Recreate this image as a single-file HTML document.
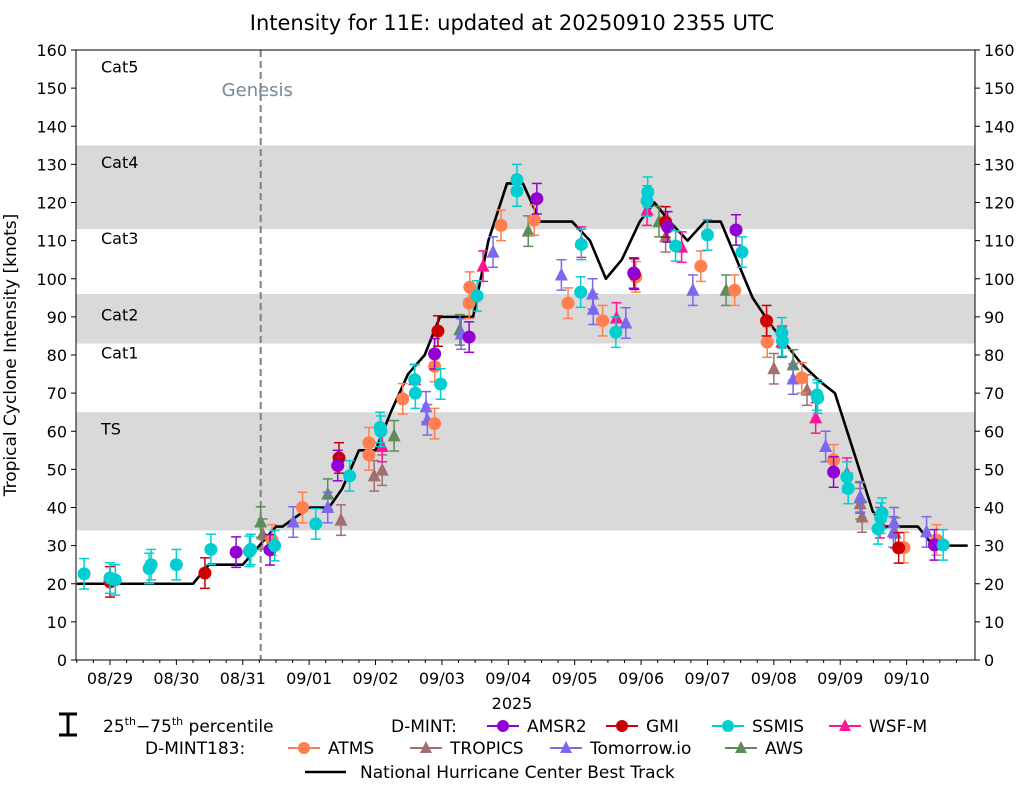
<!DOCTYPE html>
<html><head><meta charset="utf-8"><style>
body{margin:0;background:#fff;}
svg{font-family:"DejaVu Sans","Liberation Sans",sans-serif;}
</style></head><body>
<svg id="chart" width="1025" height="785" viewBox="0 0 1025 785" xmlns="http://www.w3.org/2000/svg">
<text x="512" y="30" font-size="21" text-anchor="middle">Intensity for 11E: updated at 20250910 2355 UTC</text>
<g id="bands"></g>
<g id="plot"></g>
<g id="axes"></g>
<g id="legend"></g>
</svg>
<script>
// ---- data (t = days since 08/29 00Z, knots) ----
const dayLabels=["08/29","08/30","08/31","09/01","09/02","09/03","09/04","09/05","09/06","09/07","09/08","09/09","09/10"];
const yTicks=[0,10,20,30,40,50,60,70,80,90,100,110,120,130,140,150,160];
const bandRanges=[[34,65],[83,96],[113,135]];
const catNames=["Cat5","Cat4","Cat3","Cat2","Cat1","TS"];
const catValues=[152,127,107,87,77,57];
const genesisT=2.27;
const bestT=[-0.5,1.25,1.49,2.0,2.5,2.6,3.0,3.3,3.5,3.75,4.0,4.23,4.49,4.74,4.97,5.47,5.7,5.98,6.22,6.48,6.96,7.23,7.47,7.71,7.98,8.2,8.43,8.7,8.96,9.2,9.68,9.95,10.4,10.7,10.92,11.49,11.67,12.17,12.4,12.92];
const bestV=[20,20,25,25,35,35,40,40,45,55,55,65,75,80,90,90,110,125,125,115,115,110,100,105,115,120,115,110,115,115,95,88,78,73,70,39,35,35,30,30];
const ssmisT=[-0.39,0,0.08,0.59,0.62,1.0,1.52,2.1,2.12,2.48,3.1,3.61,4.07,4.08,4.59,4.6,4.98,5.53,6.13,6.13,7.09,7.1,7.62,8.1,8.09,8.52,9.0,9.52,10.12,10.13,10.65,10.66,11.1,11.12,11.57,11.61,11.63,12.55];
const ssmisV=[22.6,21.5,21,24,25,25,29,28.5,29,30,35.7,48.3,61,60,73.5,70,72.4,95.5,126,123,96.5,109,86,122.7,120.4,108.6,111.5,107,85.8,83.7,69.5,68.7,48,45,34.4,37.2,38.5,30.2];
const amsr2T=[1.9,2.41,3.43,4.89,5.41,6.43,7.89,8.4,9.43,10.9,12.42];
const amsr2V=[28.3,28.9,51,80.3,84.7,121,101.5,113.6,112.8,49.3,30.2];
const gmiT=[0,1.43,3.45,4.94,7.9,8.37,9.89,11.88];
const gmiV=[20.5,22.8,53,86.3,101.2,114.9,89,29.4];
const atmsT=[2.44,2.9,3.9,3.9,4.41,4.89,4.89,5.41,5.42,5.89,6.39,6.9,7.42,7.92,8.9,9.41,9.9,10.42,10.9,11.96,12.45];
const atmsV=[31.5,40,53.8,57,68.5,77,62,93.6,97.8,114,115.4,93.6,89,100.5,103.3,97,83.4,74,52.5,29.5,31.5];
const tropicsT=[2.3,3.48,3.98,4.1,8.37,10.0,10.5,11.3,11.33,11.83];
const tropicsV=[33,36.7,48.3,49.8,111,76.4,70.8,41,37.5,33.3];
const tomorrowT=[2.76,3.28,4.76,4.78,5.29,5.77,6.8,7.27,7.28,7.77,8.78,10.29,10.78,11.3,11.81,11.8,12.3];
const tomorrowV=[36.2,40,66.4,63,85.5,107,101,96,92,88.4,97,73.7,56,42.8,36,33.6,33.6];
const awsT=[2.27,3.28,4.28,5.27,6.3,8.27,9.28,10.29,11.3];
const awsV=[36.2,43.5,58.8,86.6,112.5,115,97,77.4,42.5];
const wsfT=[4.1,4.59,5.62,7.1,7.63,8.09,8.61,10.12,10.63,11.1,11.6];
const wsfV=[56,73.5,103.3,109.6,89.7,118,108.3,83.4,63.5,49,36];

// ---- axes ----
const X0=76,X1=975,Y0=660,Y1=50;
const tMin=-0.512,tMax=13.03;
const xs=t=>X0+(t-tMin)/(tMax-tMin)*(X1-X0);
const ys=v=>Y0-v/160*(Y0-Y1);
const NS="http://www.w3.org/2000/svg";
function mk(tag,attrs,parent,txt){const e=document.createElementNS(NS,tag);for(const k in attrs)e.setAttribute(k,attrs[k]);if(txt!==undefined)e.textContent=txt;parent.appendChild(e);return e;}
const bands=document.getElementById('bands'),plot=document.getElementById('plot'),axes=document.getElementById('axes'),legend=document.getElementById('legend');

bandRanges.forEach(b=>{const r=mk('rect',{x:X0,y:ys(b[1]),width:X1-X0,height:ys(b[0])-ys(b[1]),fill:'#d9d9d9'},bands);

});
catNames.forEach((c,i)=>{const e=mk('text',{x:101,y:ys(catValues[i])-8,'font-size':16},bands,c);

});
const gl=mk('line',{x1:xs(genesisT),x2:xs(genesisT),y1:Y1,y2:Y0,stroke:'#808080','stroke-width':2,'stroke-dasharray':'7,4'},bands);


const gt=mk('text',{x:xs(genesisT)-39,y:96,'font-size':18,fill:'#778899'},bands,'Genesis');



// best track
const bt=mk('polyline',{points:bestT.map((t,i)=>xs(t)+','+ys(bestV[i])).join(' '),fill:'none',stroke:'#000','stroke-width':2.6,'stroke-linejoin':'round'},plot);



function marker(g,shape,cx,cy,color,s){
  if(shape==='c') return mk('circle',{cx:cx,cy:cy,r:s,fill:color},g);
  return mk('polygon',{points:`${cx},${cy-s-1} ${cx-s},${cy+s-1} ${cx+s},${cy+s-1}`,fill:color},g);
}
function series(name,T,V,color,shape){
  const g=mk('g',{},plot);
  
  
  T.forEach((t,i)=>{const x=xs(t),y=ys(V[i]);const e=4;
    const lo=ys(V[i]-e),hi=ys(V[i]+e);
    mk('line',{x1:x,x2:x,y1:lo,y2:hi,stroke:color,'stroke-width':1.5},g);
    mk('line',{x1:x-5,x2:x+5,y1:lo,y2:lo,stroke:color,'stroke-width':1.5},g);
    mk('line',{x1:x-5,x2:x+5,y1:hi,y2:hi,stroke:color,'stroke-width':1.5},g);
    const m=marker(g,shape,x,y,color,6.5);
    
    
  });
}
const C={amsr2:'#9400d3',gmi:'#cc0000',ssmis:'#00ced1',wsf:'#ff1493',atms:'#ff7f50',tropics:'#a07070',tom:'#7b68ee',aws:'#5b8c5a'};
series('tropics',tropicsT,tropicsV,C.tropics,'t');
series('aws',awsT,awsV,C.aws,'t');
series('tomorrow-io',tomorrowT,tomorrowV,C.tom,'t');
series('atms',atmsT,atmsV,C.atms,'c');
series('gmi',gmiT,gmiV,C.gmi,'c');
series('amsr2',amsr2T,amsr2V,C.amsr2,'c');
series('wsf-m',wsfT,wsfV,C.wsf,'t');
series('ssmis',ssmisT,ssmisV,C.ssmis,'c');

// frame
const fr=mk('rect',{x:X0,y:Y1,width:X1-X0,height:Y0-Y1,fill:'none',stroke:'#000','stroke-width':1},axes);


yTicks.forEach(v=>{const y=ys(v);
  mk('line',{x1:X0-5,x2:X0,y1:y,y2:y,stroke:'#000'},axes);
  mk('line',{x1:X1,x2:X1+5,y1:y,y2:y,stroke:'#000'},axes);
  const l=mk('text',{x:X0-9,y:y+6,'font-size':16,'text-anchor':'end'},axes,v);
  
  
  const r=mk('text',{x:X1+9,y:y+6,'font-size':16},axes,v);
  
  });
dayLabels.forEach((d,i)=>{const x=xs(i);
  mk('line',{x1:x,x2:x,y1:Y0,y2:Y0+5,stroke:'#000'},axes);
  const l=mk('text',{x:x,y:684,'font-size':16,'text-anchor':'middle'},axes,d);
  
  });
for(let i=-0.5;i<13;i+=0.25){if(Math.abs(i-Math.round(i))<1e-6)continue;const x=xs(i);if(x<X0)continue;mk('line',{x1:x,x2:x,y1:Y0,y2:Y0+3,stroke:'#000'},axes);}
const xt=mk('text',{x:512,y:709,'font-size':16,'text-anchor':'middle'},axes,'2025');


const yt=mk('text',{x:0,y:0,'font-size':17,'text-anchor':'middle',transform:'translate(16,355) rotate(-90)'},axes,'Tropical Cyclone Intensity [knots]');



// legend
function legItem(name,cx,y,color,shape,label){
  const g=mk('g',{},legend);
  
  
  mk('line',{x1:cx-16,x2:cx+16,y1:y,y2:y,stroke:color,'stroke-width':2},g);
  marker(g,shape,cx,y,color,6);
  mk('text',{x:cx+24,y:y+6,'font-size':17},g,label);
}
const eg=mk('g',{stroke:'#000','stroke-width':3},legend);


mk('line',{x1:68,x2:68,y1:714,y2:735},eg);mk('line',{x1:59,x2:77,y1:714,y2:714},eg);mk('line',{x1:59,x2:77,y1:735,y2:735},eg);
const pt=mk('text',{x:103,y:732,'font-size':17},legend);


pt.innerHTML='25<tspan font-size="11" dy="-7">th</tspan><tspan dy="7">−75</tspan><tspan font-size="11" dy="-7">th</tspan><tspan dy="7"> percentile</tspan>';
const d1=mk('text',{x:391,y:732,'font-size':17},legend,'D-MINT:');


legItem('amsr2',503,726,C.amsr2,'c','AMSR2');
legItem('gmi',622,726,C.gmi,'c','GMI');
legItem('ssmis',728,726,C.ssmis,'c','SSMIS');
legItem('wsf-m',845,726,C.wsf,'t','WSF-M');
const d2=mk('text',{x:145,y:754,'font-size':17},legend,'D-MINT183:');


legItem('atms',304,748,C.atms,'c','ATMS');
legItem('tropics',426,748,C.tropics,'t','TROPICS');
legItem('tomorrow-io',566,748,C.tom,'t','Tomorrow.io');
legItem('aws',741,748,C.aws,'t','AWS');
const lg=mk('g',{},legend);


mk('line',{x1:305,x2:346,y1:772,y2:772,stroke:'#000','stroke-width':2.5},lg);
mk('text',{x:360,y:778,'font-size':17},lg,'National Hurricane Center Best Track');
</script>
</body></html>
